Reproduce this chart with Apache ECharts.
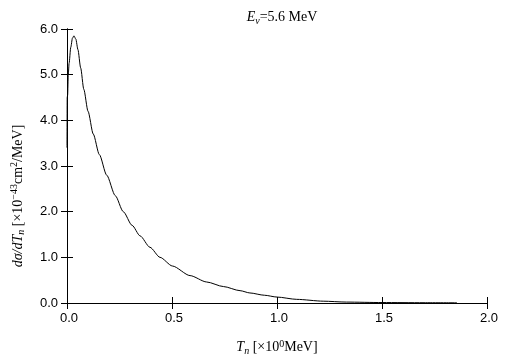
<!DOCTYPE html>
<html>
<head>
<meta charset="utf-8">
<script src="https://cdn.jsdelivr.net/npm/echarts@6/dist/echarts.min.js"></script>
<style>
  html, body { margin: 0; padding: 0; background: #fff; }
  #chart { width: 505px; height: 361px; }
</style>
</head>
<body>
<div id="chart"></div>
<script>
// T_n values [MeV] and dsigma/dT_n [x1e-43 cm^2/MeV]
const tn = [0.000, 0.001, 0.003, 0.006, 0.010, 0.018, 0.026, 0.033, 0.042, 0.052, 0.065, 0.080, 0.100,
            0.125, 0.154, 0.189, 0.230, 0.268, 0.310, 0.348, 0.395, 0.443, 0.502, 0.586, 0.665,
            0.745, 0.824, 0.871, 0.940, 1.000, 1.094, 1.220, 1.330, 1.500, 1.700, 1.857];
const xs = [3.40, 4.50, 4.55, 5.00, 5.25, 5.60, 5.80, 5.85, 5.78, 5.55, 5.15, 4.68, 4.20,
            3.70, 3.25, 2.80, 2.35, 2.00, 1.70, 1.47, 1.22, 1.00, 0.81, 0.60, 0.46,
            0.36, 0.27, 0.22, 0.17, 0.13, 0.08, 0.04, 0.02, 0.01, 0.006, 0.004];
const xTicks = [0, 0.5, 1.0, 1.5, 2.0];
const yTicks = [0, 1, 2, 3, 4, 5, 6];

const chart = echarts.init(document.getElementById('chart'));
const serif = '"Liberation Serif", "DejaVu Serif", serif';
const sans = '"Liberation Sans", Arial, sans-serif';

const frame = {
  axisLine: { show: true, lineStyle: { color: '#000', width: 1 } },
  axisTick: { show: true, inside: true, length: 6, lineStyle: { color: '#000' } },
  splitLine: { show: false }
};

function richSet(size) {
  const s = Math.round(size * 0.68);
  return {
    i: { fontFamily: serif, fontStyle: 'italic', fontWeight: 'normal', fontSize: size, color: '#000' },
    sub: { fontFamily: serif, fontStyle: 'italic', fontWeight: 'normal', fontSize: s, color: '#000', padding: [7, 0, 0, 0] },
    sup: { fontFamily: serif, fontWeight: 'normal', fontSize: s, color: '#000', padding: [0, 0, 7, 0] },
    n: { fontFamily: serif, fontWeight: 'normal', fontSize: size, color: '#000' }
  };
}

chart.setOption({
  animation: false,
  backgroundColor: '#fff',
  title: {
    text: '{i|E}{sub|ν}{n|=5.6 MeV}',
    left: 277, top: 4, textAlign: 'center',
    textStyle: { fontWeight: 'normal', rich: richSet(14) }
  },
  grid: { left: 67, right: 18, top: 29, bottom: 56 },
  xAxis: [{
    type: 'value', min: xTicks[0], max: xTicks[xTicks.length - 1], interval: 0.5,
    ...frame,
    axisLabel: { color: '#000', fontFamily: sans, fontSize: 13, margin: 9, padding: [0, 0, 0, 4],
                 formatter: v => v.toFixed(1) },
    name: '{i|T}{sub|n}{n| [×10}{sup|0}{n|MeV]}',
    nameLocation: 'middle', nameGap: 36,
    nameTextStyle: { rich: richSet(14) }
  }, {
    type: 'value', position: 'top', min: 0, max: 2, interval: 0.5,
    ...frame, axisLabel: { show: false }
  }],
  yAxis: [{
    type: 'value', min: yTicks[0], max: yTicks[yTicks.length - 1], interval: 1,
    ...frame,
    axisLabel: { color: '#000', fontFamily: sans, fontSize: 13, margin: 9, formatter: v => v.toFixed(1) }
  }, {
    type: 'value', position: 'right', min: 0, max: 6, interval: 1,
    ...frame, axisLabel: { show: false }
  }],
  graphic: [{
    type: 'text',
    x: 18, y: 196, rotation: Math.PI / 2,
    style: {
      text: '{i|dσ/dT}{sub|n}{n| [×10}{sup|−43}{n|cm}{sup|2}{n|/MeV]}',
      align: 'center', verticalAlign: 'middle',
      rich: richSet(14)
    }
  }],
  series: [{
    type: 'line',
    data: tn.map((t, i) => [t, xs[i]]),
    showSymbol: false,
    smooth: 0.25,
    smoothMonotone: 'x',
    lineStyle: { color: '#000', width: 1 },
    clip: true
  }]
});
</script>
</body>
</html>
